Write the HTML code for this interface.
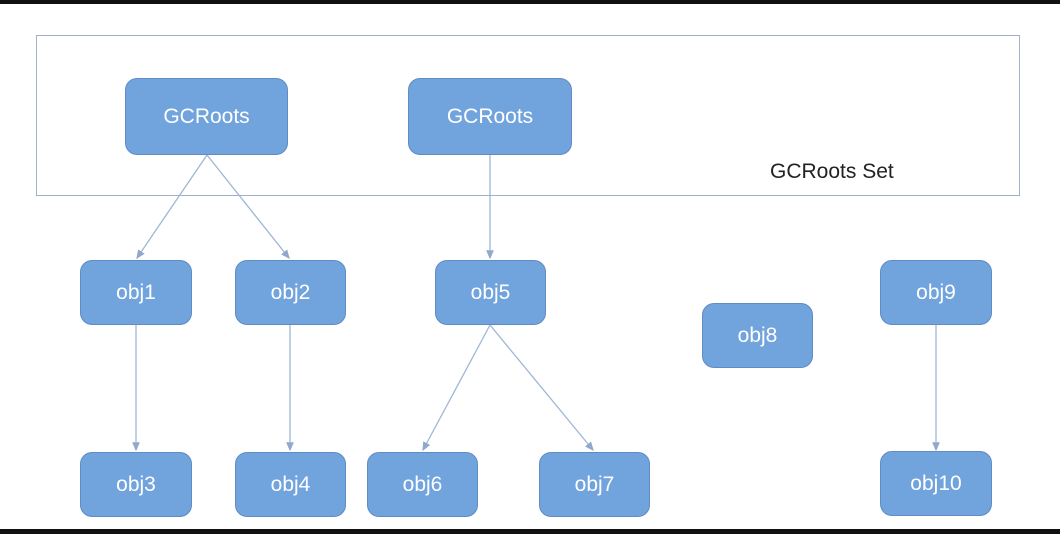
<!DOCTYPE html>
<html><head><style>
body{margin:0;width:1060px;height:534px;background:#fff;position:relative;overflow:hidden;font-family:"Liberation Sans",sans-serif}
.n{position:absolute;background:#71a3dd;border:1.5px solid #5f8cc4;border-radius:12px;color:#fff;font-size:21px;display:flex;align-items:center;justify-content:center;box-sizing:border-box}
</style></head><body>
<div style="position:absolute;left:0;top:0;width:1060px;height:4px;background:#111"></div>
<div style="position:absolute;left:0;top:529px;width:1060px;height:5px;background:#111"></div>
<div style="position:absolute;left:36px;top:35px;width:984px;height:161px;border:1.5px solid #9fb0c8;box-sizing:border-box"></div>
<div style="position:absolute;left:770px;top:160px;font-size:21px;color:#222">GCRoots Set</div>
<svg width="1060" height="534" style="position:absolute;left:0;top:0">
<defs><marker id="a" markerWidth="8" markerHeight="8" refX="6" refY="4" orient="auto"><path d="M0,1 L7,4 L0,7z" fill="#8fa8cc"/></marker></defs>
<g stroke="#9fb6d6" stroke-width="1.3" marker-end="url(#a)">
<line x1="207" y1="155" x2="137" y2="258"/>
<line x1="207" y1="155" x2="289" y2="258"/>
<line x1="490" y1="155" x2="490" y2="258"/>
<line x1="136" y1="325" x2="136" y2="450"/>
<line x1="290" y1="325" x2="290" y2="450"/>
<line x1="490" y1="325" x2="423" y2="450"/>
<line x1="490" y1="325" x2="593" y2="450"/>
<line x1="936" y1="325" x2="936" y2="450"/>
</g></svg>
<div class="n" style="left:125px;top:78px;width:163px;height:77px">GCRoots</div>
<div class="n" style="left:408px;top:78px;width:164px;height:77px">GCRoots</div>
<div class="n" style="left:80px;top:260px;width:112px;height:65px">obj1</div>
<div class="n" style="left:235px;top:260px;width:111px;height:65px">obj2</div>
<div class="n" style="left:435px;top:260px;width:111px;height:65px">obj5</div>
<div class="n" style="left:880px;top:260px;width:112px;height:65px">obj9</div>
<div class="n" style="left:702px;top:303px;width:111px;height:65px">obj8</div>
<div class="n" style="left:80px;top:452px;width:112px;height:65px">obj3</div>
<div class="n" style="left:235px;top:452px;width:111px;height:65px">obj4</div>
<div class="n" style="left:367px;top:452px;width:111px;height:65px">obj6</div>
<div class="n" style="left:539px;top:452px;width:111px;height:65px">obj7</div>
<div class="n" style="left:880px;top:451px;width:112px;height:65px">obj10</div>
</body></html>
